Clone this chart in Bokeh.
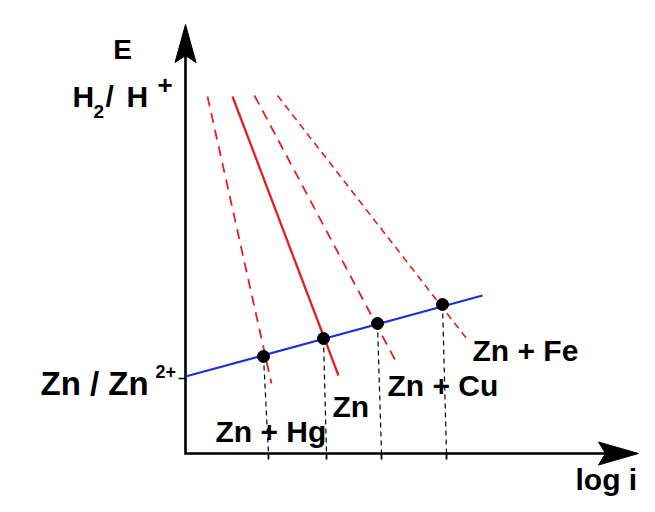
from bokeh.plotting import figure
from bokeh.models import Range1d
from bokeh.core.properties import value
from bokeh.embed import file_html
from bokeh.resources import INLINE

# ---- data (x = log i, y = E, arbitrary units) ----
blue_x = [0, 297]
blue_y = [77, 158]

red_xs = [[22, 86], [47, 153], [69, 212], [92, 281]]
red_ys = [[357, 70], [357, 78], [358, 89], [358, 115]]
red_dash = ["10 7", "solid", "10 7", "7 5"]
red_width = [1.8, 2.3, 1.8, 1.6]

point_x = [78, 138, 192, 257]
point_y = [97, 115, 130, 149]
tick_x = [83, 141, 196, 261]

y_axis_top = 429
x_axis_end = 453
zn_level = 75

labels = ["Zn + Hg", "Zn", "Zn + Cu", "Zn + Fe"]

FONT = value("Liberation Sans")

p = figure(width=639, height=496, output_backend="svg", toolbar_location=None,
           x_range=Range1d(-185, 454), y_range=Range1d(-43, 453),
           x_axis_location=None, y_axis_location=None, min_border=0)
p.outline_line_color = None
p.xgrid.visible = False
p.ygrid.visible = False

# axes with arrows
head_len_y, head_w_y, notch_y = 38, 21, 31
head_len_x, head_w_x, notch_x = 40, 23, 33
p.line([0, 0, x_axis_end - notch_x], [y_axis_top - notch_y, 0, 0],
       line_color="black", line_width=2.6, line_join="miter")
p.patch([0, head_w_y / 2, 0, -head_w_y / 2],
        [y_axis_top, y_axis_top - head_len_y, y_axis_top - notch_y, y_axis_top - head_len_y],
        color="black")
p.patch([x_axis_end, x_axis_end - head_len_x, x_axis_end - notch_x, x_axis_end - head_len_x],
        [0, head_w_x / 2, 0, -head_w_x / 2], color="black")

# small tick at Zn/Zn2+ level
p.line([-7, 0], [zn_level, zn_level], line_color="black", line_width=1.6)

# red Tafel lines
for xs, ys, d, w in zip(red_xs, red_ys, red_dash, red_width):
    p.line(xs, ys, line_color="#e3201c", line_width=w, line_dash=d)

# blue line
p.line(blue_x, blue_y, line_color="#1a2fd6", line_width=2.2)

# dashed drop lines and ticks
for px_, py_, tx in zip(point_x, point_y, tick_x):
    p.line([px_, tx], [py_, 0], line_color="black", line_width=1.2, line_dash="5 4")
    p.line([tx, tx], [0, -6], line_color="black", line_width=1.8)

p.scatter(point_x, point_y, size=12, color="black")

def txt(x, y, t, size, align="left"):
    # small upward correction so the drawn baseline lands where intended
    p.text(x=[x], y=[y + 0.31 * size], text=[t], text_font=FONT, text_font_style="bold",
           text_font_size=f"{size}px", text_align=align, text_baseline="alphabetic",
           text_color="black")

# labels
txt(-63, 395, "E", 28, "center")
txt(-113, 348, "H", 30)
txt(-92, 336, "2", 19)
txt(-80, 348, "/", 30)
txt(-59, 348, "H", 30)
txt(-28, 360, "+", 26)

txt(-145, 60, "Zn / Zn", 33)
txt(-30, 76, "2+", 18)

txt(30, 13, labels[0], 30)
txt(147, 38, labels[1], 30)
txt(202, 59, labels[2], 30)
txt(287, 94, labels[3], 30)
txt(390, -35, "log i", 30)

open("out.html", "w").write(file_html(p, INLINE))
